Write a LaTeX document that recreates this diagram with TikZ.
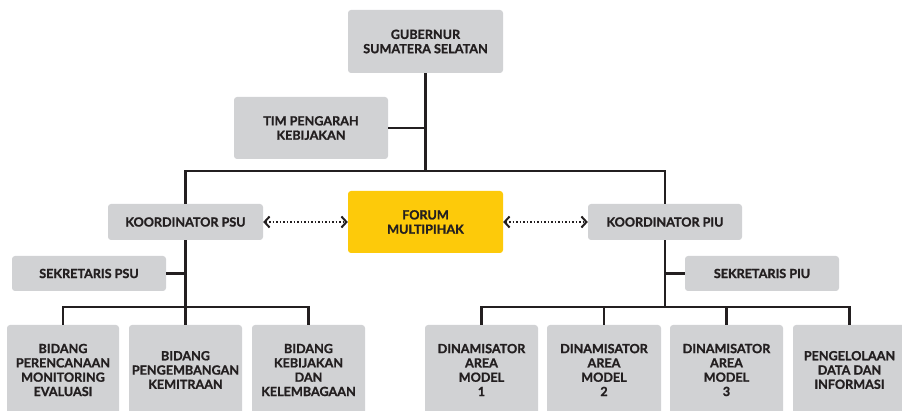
\documentclass[tikz,border=0pt]{standalone}
\usepackage{fontspec}
\setmainfont{Lato}[BoldFeatures={FakeBold=1.2}]
\usetikzlibrary{arrows.meta}
\definecolor{boxgray}{HTML}{D1D2D4}
\definecolor{forumyellow}{HTML}{FDCA0A}
\definecolor{ink}{HTML}{231F20}
\tikzset{
  unitbox/.style={fill=boxgray, rounded corners=3pt, align=center, inner sep=0pt,
    font=\bfseries\fontsize{12.6}{14.3}\selectfont, text=ink},
  conn/.style={draw=ink, line width=2.3pt},
  link/.style={draw=ink, line width=2pt, dash pattern=on 1.6pt off 1.9pt,
    {Straight Barb[length=5pt,width=11pt,line width=2pt]}-{Straight Barb[length=5pt,width=11pt,line width=2pt]}},
}
\begin{document}
\begin{tikzpicture}[x=1pt,y=-1pt]
\useasboundingbox (0,0) rectangle (902,411);
\clip (0,0) rectangle (902,411);

% top level
\node[unitbox, minimum width=155pt, minimum height=63pt] (gub) at (425.5,41.5) {GUBERNUR\\SUMATERA SELATAN};
\node[unitbox, minimum width=154pt, minimum height=62pt] (tim) at (311,128) {TIM PENGARAH\\KEBIJAKAN};

% coordinators and forum
\node[unitbox, minimum width=155pt, minimum height=36pt] (psu) at (185.5,222) {KOORDINATOR PSU};
\node[unitbox, fill=forumyellow, minimum width=155pt, minimum height=62pt] (forum) at (425.5,222) {FORUM\\MULTIPIHAK};
\node[unitbox, minimum width=154pt, minimum height=36pt] (piu) at (665,222) {KOORDINATOR PIU};

% secretaries
\node[unitbox, minimum width=154pt, minimum height=35pt] (sekpsu) at (89,273.5) {SEKRETARIS PSU};
\node[unitbox, minimum width=154pt, minimum height=35pt] (sekpiu) at (762,273.5) {SEKRETARIS PIU};

% PSU divisions
\node[unitbox, minimum width=112pt, minimum height=90pt] (b1) at (63,370) {BIDANG\\PERENCANAAN\\MONITORING\\EVALUASI};
\node[unitbox, minimum width=113pt, minimum height=90pt] (b2) at (185.5,370) {BIDANG\\PENGEMBANGAN\\KEMITRAAN};
\node[unitbox, minimum width=113pt, minimum height=90pt] (b3) at (308.5,370) {BIDANG\\KEBIJAKAN\\DAN\\KELEMBAGAAN};

% PIU divisions
\node[unitbox, minimum width=113pt, minimum height=90pt] (d1) at (481.5,370) {DINAMISATOR\\AREA\\MODEL\\1};
\node[unitbox, minimum width=114pt, minimum height=90pt] (d2) at (604,370) {DINAMISATOR\\AREA\\MODEL\\2};
\node[unitbox, minimum width=113pt, minimum height=90pt] (d3) at (726.5,370) {DINAMISATOR\\AREA\\MODEL\\3};
\node[unitbox, minimum width=113pt, minimum height=90pt] (d4) at (849.5,370) {PENGELOLAAN\\DATA DAN\\INFORMASI};

% connectors
\coordinate (hub) at (425.5,171);
\draw[conn] (gub.south) -- (hub);
\draw[conn] (tim.east) -- (tim.east -| gub.south);
\draw[conn] (psu.north) |- (hub) -| (piu.north);

\draw[conn] (psu.south) -- (b2.north);
\draw[conn] (sekpsu.east) -- (sekpsu.east -| psu.south);
\draw[conn] (b1.north) -- ++(0,-18) -| (b3.north);

\coordinate (piubar) at ([yshift=18pt]d1.north -| piu.south);
\draw[conn] (piu.south) -- (piubar);
\draw[conn] (sekpiu.west) -- (sekpiu.west -| piu.south);
\draw[conn] (d1.north) -- ++(0,-18) -| (d4.north);
\draw[conn] (d2.north) -- ++(0,-18);
\draw[conn] (d3.north) -- ++(0,-18);

% dotted links to the forum
\draw[link] (psu.east) -- (forum.west);
\draw[link] (forum.east) -- (piu.west);
\end{tikzpicture}
\end{document}
